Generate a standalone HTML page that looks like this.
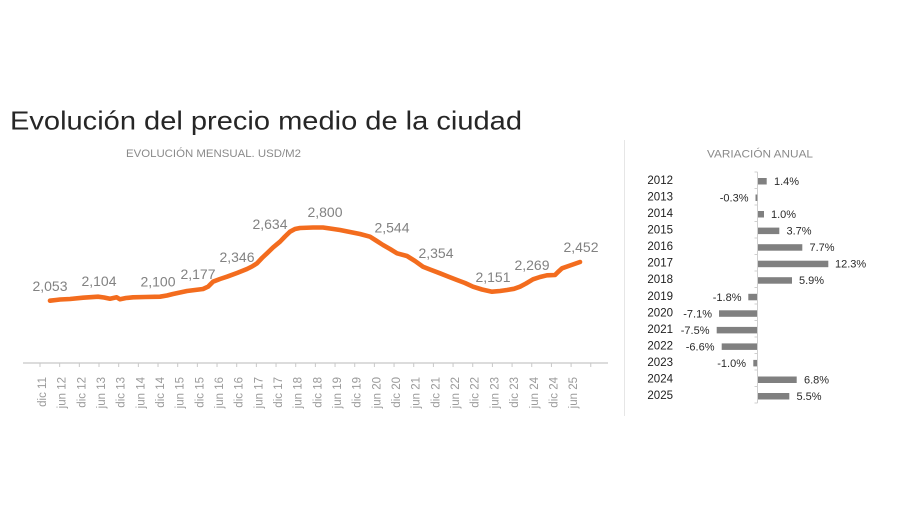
<!DOCTYPE html>
<html><head><meta charset="utf-8"><style>
html,body{margin:0;padding:0;background:#fff;}
svg{display:block;font-family:"Liberation Sans",sans-serif;}
</style></head><body>
<svg width="900" height="505" viewBox="0 0 900 505" xmlns="http://www.w3.org/2000/svg">
<rect width="900" height="505" fill="#fff"/>
<text x="10" y="129.5" font-size="26" fill="#262626" textLength="512" lengthAdjust="spacingAndGlyphs">Evolución del precio medio de la ciudad</text>
<text x="126" y="157" font-size="11" fill="#8a8a8a" textLength="175" lengthAdjust="spacingAndGlyphs">EVOLUCIÓN MENSUAL. USD/M2</text>
<text x="707" y="157.5" font-size="11" fill="#8a8a8a" textLength="106" lengthAdjust="spacingAndGlyphs">VARIACIÓN ANUAL</text>
<line x1="624.5" y1="140" x2="624.5" y2="416" stroke="#e6e6e6" stroke-width="1"/>
<!-- x axis -->
<line x1="23" y1="363" x2="608" y2="363" stroke="#c8c8c8" stroke-width="1.2"/>
<g stroke="#c8c8c8" stroke-width="1">
<line x1="40" y1="363" x2="40" y2="367"/><line x1="59.67" y1="363" x2="59.67" y2="367"/><line x1="79.34" y1="363" x2="79.34" y2="367"/><line x1="99.01" y1="363" x2="99.01" y2="367"/><line x1="118.68" y1="363" x2="118.68" y2="367"/><line x1="138.35" y1="363" x2="138.35" y2="367"/><line x1="158.02" y1="363" x2="158.02" y2="367"/><line x1="177.69" y1="363" x2="177.69" y2="367"/><line x1="197.36" y1="363" x2="197.36" y2="367"/><line x1="217.03" y1="363" x2="217.03" y2="367"/><line x1="236.7" y1="363" x2="236.7" y2="367"/><line x1="256.37" y1="363" x2="256.37" y2="367"/><line x1="276.04" y1="363" x2="276.04" y2="367"/><line x1="295.71" y1="363" x2="295.71" y2="367"/><line x1="315.38" y1="363" x2="315.38" y2="367"/><line x1="335.05" y1="363" x2="335.05" y2="367"/><line x1="354.72" y1="363" x2="354.72" y2="367"/><line x1="374.39" y1="363" x2="374.39" y2="367"/><line x1="394.06" y1="363" x2="394.06" y2="367"/><line x1="413.73" y1="363" x2="413.73" y2="367"/><line x1="433.4" y1="363" x2="433.4" y2="367"/><line x1="453.07" y1="363" x2="453.07" y2="367"/><line x1="472.74" y1="363" x2="472.74" y2="367"/><line x1="492.41" y1="363" x2="492.41" y2="367"/><line x1="512.08" y1="363" x2="512.08" y2="367"/><line x1="531.75" y1="363" x2="531.75" y2="367"/><line x1="551.42" y1="363" x2="551.42" y2="367"/><line x1="571.09" y1="363" x2="571.09" y2="367"/><line x1="590.76" y1="363" x2="590.76" y2="367"/>
</g>
<g font-size="11.5" fill="#9a9a9a" text-anchor="end">
<text transform="translate(46,377) rotate(-90)">dic 11</text>
<text transform="translate(65.67,377) rotate(-90)">jun 12</text>
<text transform="translate(85.34,377) rotate(-90)">dic 12</text>
<text transform="translate(105.01,377) rotate(-90)">jun 13</text>
<text transform="translate(124.68,377) rotate(-90)">dic 13</text>
<text transform="translate(144.35,377) rotate(-90)">jun 14</text>
<text transform="translate(164.02,377) rotate(-90)">dic 14</text>
<text transform="translate(183.69,377) rotate(-90)">jun 15</text>
<text transform="translate(203.36,377) rotate(-90)">dic 15</text>
<text transform="translate(223.03,377) rotate(-90)">jun 16</text>
<text transform="translate(242.7,377) rotate(-90)">dic 16</text>
<text transform="translate(262.37,377) rotate(-90)">jun 17</text>
<text transform="translate(282.04,377) rotate(-90)">dic 17</text>
<text transform="translate(301.71,377) rotate(-90)">jun 18</text>
<text transform="translate(321.38,377) rotate(-90)">dic 18</text>
<text transform="translate(341.05,377) rotate(-90)">jun 19</text>
<text transform="translate(360.72,377) rotate(-90)">dic 19</text>
<text transform="translate(380.39,377) rotate(-90)">jun 20</text>
<text transform="translate(400.06,377) rotate(-90)">dic 20</text>
<text transform="translate(419.73,377) rotate(-90)">jun 21</text>
<text transform="translate(439.4,377) rotate(-90)">dic 21</text>
<text transform="translate(459.07,377) rotate(-90)">jun 22</text>
<text transform="translate(478.74,377) rotate(-90)">dic 22</text>
<text transform="translate(498.41,377) rotate(-90)">jun 23</text>
<text transform="translate(518.08,377) rotate(-90)">dic 23</text>
<text transform="translate(537.75,377) rotate(-90)">jun 24</text>
<text transform="translate(557.42,377) rotate(-90)">dic 24</text>
<text transform="translate(577.09,377) rotate(-90)">jun 25</text>
</g>
<!-- line -->
<polyline fill="none" stroke="#F36C1E" stroke-width="4.6" stroke-linecap="round" stroke-linejoin="round" points="50,300.7 56,300 60,299.5 70,299 83,297.7 98,296.7 104,297.5 110,298.7 116.7,297.3 120,299.3 126,298 133,297.3 145,297 160,296.7 167,295.5 173,294 180,292.5 187,291 195,290 203,289 208,286.7 213,281.7 220,279 227,276.7 237,273 247,269 252,266.5 257,263.3 262,258 267,253.3 273,247.5 280,241.7 285,236.5 290,231.7 295,229 300,228 313,227.5 323,227.5 330,228.5 340,230 350,232 360,234 370,236.7 376,240.5 383,245 390,249 397,253.3 407,256 415,261 423,266.7 430,269.5 440,273.3 448,276.5 457,280 465,283 473,286.7 482,289.5 492,291.7 500,291 507,290 514,288.8 520,286.7 526,283.5 533,279.3 540,277 547,275.3 555,275 558,272 562,268.3 570,265.5 580,262"/>
<g font-size="14" fill="#828282" text-anchor="middle">
<text x="50" y="291">2,053</text>
<text x="99" y="286">2,104</text>
<text x="158" y="286.5">2,100</text>
<text x="198" y="279">2,177</text>
<text x="237" y="262">2,346</text>
<text x="270" y="229">2,634</text>
<text x="325" y="217">2,800</text>
<text x="392" y="232.5">2,544</text>
<text x="436" y="258">2,354</text>
<text x="493" y="282">2,151</text>
<text x="532" y="270">2,269</text>
<text x="581" y="252">2,452</text>
</g>
<!-- bar chart -->
<line x1="757.5" y1="172" x2="757.5" y2="403" stroke="#cfcfcf" stroke-width="1"/>
<g stroke="#cfcfcf" stroke-width="1">
<line x1="754.5" y1="172" x2="757.5" y2="172"/><line x1="754.5" y1="188.5" x2="757.5" y2="188.5"/><line x1="754.5" y1="205" x2="757.5" y2="205"/><line x1="754.5" y1="221.5" x2="757.5" y2="221.5"/><line x1="754.5" y1="238" x2="757.5" y2="238"/><line x1="754.5" y1="254.5" x2="757.5" y2="254.5"/><line x1="754.5" y1="271" x2="757.5" y2="271"/><line x1="754.5" y1="287.5" x2="757.5" y2="287.5"/><line x1="754.5" y1="304" x2="757.5" y2="304"/><line x1="754.5" y1="320.5" x2="757.5" y2="320.5"/><line x1="754.5" y1="337" x2="757.5" y2="337"/><line x1="754.5" y1="353.5" x2="757.5" y2="353.5"/><line x1="754.5" y1="370" x2="757.5" y2="370"/><line x1="754.5" y1="386.5" x2="757.5" y2="386.5"/><line x1="754.5" y1="403" x2="757.5" y2="403"/>
</g>
<g font-size="11.5" fill="#1e1e1e" text-anchor="end">
<text x="673" y="184">2012</text>
<text x="673" y="200.5">2013</text>
<text x="673" y="217">2014</text>
<text x="673" y="233.6">2015</text>
<text x="673" y="250.2">2016</text>
<text x="673" y="266.7">2017</text>
<text x="673" y="283.2">2018</text>
<text x="673" y="299.8">2019</text>
<text x="673" y="316.3">2020</text>
<text x="673" y="332.9">2021</text>
<text x="673" y="349.4">2022</text>
<text x="673" y="365.9">2023</text>
<text x="673" y="382.5">2024</text>
<text x="673" y="399">2025</text>
</g>
<g fill="#808080">
<rect x="758" y="178" width="8.7" height="6.5"/>
<rect x="755.5" y="194.5" width="1.8" height="6.5"/>
<rect x="758" y="211" width="6" height="6.5"/>
<rect x="758" y="227.6" width="21.3" height="6.5"/>
<rect x="758" y="244.2" width="44.3" height="6.5"/>
<rect x="758" y="260.7" width="70.3" height="6.5"/>
<rect x="758" y="277.2" width="34" height="6.5"/>
<rect x="748.3" y="293.8" width="8.7" height="6.5"/>
<rect x="719" y="310.3" width="38" height="6.5"/>
<rect x="716.7" y="326.9" width="40.3" height="6.5"/>
<rect x="721.7" y="343.4" width="35.3" height="6.5"/>
<rect x="753.3" y="359.9" width="3.7" height="6.5"/>
<rect x="758" y="376.5" width="38.7" height="6.5"/>
<rect x="758" y="393" width="31.3" height="6.5"/>
</g>
<g font-size="11" fill="#2a2a2a">
<text x="774" y="185">1.4%</text>
<text x="748.5" y="201.5" text-anchor="end">-0.3%</text>
<text x="771" y="218">1.0%</text>
<text x="786.5" y="234.6">3.7%</text>
<text x="809.5" y="251.2">7.7%</text>
<text x="835" y="267.7">12.3%</text>
<text x="799" y="284.2">5.9%</text>
<text x="741.5" y="300.8" text-anchor="end">-1.8%</text>
<text x="712" y="317.3" text-anchor="end">-7.1%</text>
<text x="709.5" y="333.9" text-anchor="end">-7.5%</text>
<text x="714.5" y="350.4" text-anchor="end">-6.6%</text>
<text x="746" y="366.9" text-anchor="end">-1.0%</text>
<text x="804" y="383.5">6.8%</text>
<text x="796.5" y="400">5.5%</text>
</g>
</svg>
</body></html>
